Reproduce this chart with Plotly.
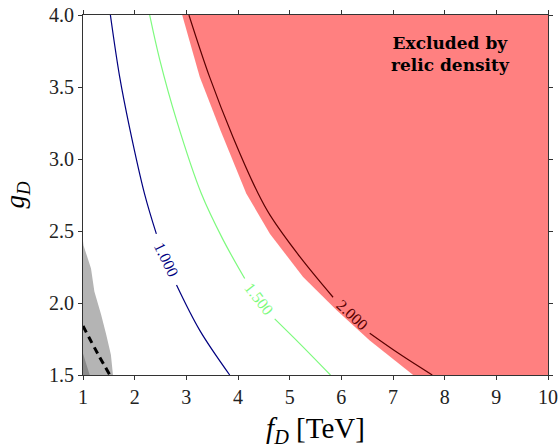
import plotly.graph_objects as go

# ---- data ----
# contour lines (None marks the gap left for the inline label)
c1000_fD = [1.53, 1.71, 1.90, 2.19, 2.42, None, 2.81, 3.26, 3.84]
c1000_gD = [4.00, 3.57, 3.22, 2.76, 2.48, None, 2.125, 1.81, 1.50]

c1500_fD = [2.29, 2.485, 2.81, 3.29, 3.71, 4.13, None, 4.71, 5.19, 5.79]
c1500_gD = [4.00, 3.69, 3.27, 2.76, 2.44, 2.17, None, 1.89, 1.72, 1.50]

c2000_fD = [3.05, 3.45, 3.90, 4.39, 4.62, 5.20, 5.84, None, 6.55, 7.15, 7.76]
c2000_gD = [4.00, 3.57, 3.155, 2.76, 2.61, 2.32, 2.04, None, 1.79, 1.64, 1.50]

# excluded (relic density) region boundary, closed along the right/top edges
excl_fD = [2.92, 3.26, 3.66, 4.16, 4.62, 5.26, 5.91, 6.55, 7.39, 10.0, 10.0]
excl_gD = [4.00, 3.57, 3.20, 2.76, 2.48, 2.18, 1.95, 1.74, 1.50, 1.50, 4.00]

# grey regions lower-left
grey_fD = [1.00, 1.01, 1.155, 1.22, 1.35, 1.45, 1.54, 1.58, 1.00]
grey_gD = [2.43, 2.40, 2.24, 2.08, 1.92, 1.78, 1.64, 1.50, 1.50]
dgrey_fD = [1.00, 1.06, 1.13, 1.00]
dgrey_gD = [1.65, 1.58, 1.50, 1.50]

dash_fD = [1.00, 1.29, 1.52]
dash_gD = [1.84, 1.645, 1.50]

labels = [
    dict(text="1.000", x=2.61, y=2.30, angle=64, color="#000080"),
    dict(text="1.500", x=4.40, y=2.03, angle=52, color="#7dfa7d"),
    dict(text="2.000", x=6.20, y=1.917, angle=43, color="#5a0000"),
]

xticks = [1, 2, 3, 4, 5, 6, 7, 8, 9, 10]
yticks = [1.5, 2.0, 2.5, 3.0, 3.5, 4.0]

FONT = "Liberation Serif"

fig = go.Figure()
fig.add_trace(go.Scatter(x=grey_fD, y=grey_gD, fill="toself", mode="none",
                         fillcolor="#b4b4b4", hoverinfo="skip"))
fig.add_trace(go.Scatter(x=dgrey_fD, y=dgrey_gD, fill="toself", mode="none",
                         fillcolor="#8a8a8a", hoverinfo="skip"))
fig.add_trace(go.Scatter(x=excl_fD, y=excl_gD, fill="toself", mode="none",
                         fillcolor="#ff8080", hoverinfo="skip"))
fig.add_trace(go.Scatter(x=c1000_fD, y=c1000_gD, mode="lines",
                         line=dict(color="#000080", width=1.2, shape="spline")))
fig.add_trace(go.Scatter(x=c1500_fD, y=c1500_gD, mode="lines",
                         line=dict(color="#7dfa7d", width=1.2, shape="spline")))
fig.add_trace(go.Scatter(x=c2000_fD, y=c2000_gD, mode="lines",
                         line=dict(color="#5a0000", width=1.2, shape="spline")))
fig.add_trace(go.Scatter(x=dash_fD, y=dash_gD, mode="lines",
                         line=dict(color="black", width=3, dash="7px,5px", shape="spline")))

for lb in labels:
    fig.add_annotation(x=lb["x"], y=lb["y"], text=lb["text"], showarrow=False,
                       textangle=lb["angle"], font=dict(family=FONT, size=16, color=lb["color"]))

fig.add_annotation(x=8.12, y=3.73, text="<b>Excluded by<br>relic density</b>",
                   showarrow=False,
                   font=dict(family="DejaVu Serif", size=17, color="black"))

axis_common = dict(showgrid=False, zeroline=False, showline=True, linecolor="#333",
                   linewidth=1, mirror="ticks", ticks="outside", ticklen=4,
                   tickcolor="#333", automargin=False,
                   tickfont=dict(family=FONT, size=20, color="#222"))

fig.update_layout(
    width=559, height=448,
    margin=dict(l=83, r=11, t=15, b=73),
    paper_bgcolor="white", plot_bgcolor="white",
    showlegend=False,
    xaxis=dict(range=[1, 10], tickvals=xticks, ticktext=[str(v) for v in xticks],
               title=dict(text="<i>f</i><sub><i>D</i></sub> [TeV]",
                          font=dict(family=FONT, size=29, color="black"), standoff=14),
               **axis_common),
    yaxis=dict(range=[1.5, 4.0], tickvals=yticks, ticktext=[f"{v:.1f}" for v in yticks],
               title=dict(text="<i>g</i><sub><i>D</i></sub>",
                          font=dict(family=FONT, size=27, color="black"), standoff=28),
               **axis_common),
)

fig.write_html("out.html")
